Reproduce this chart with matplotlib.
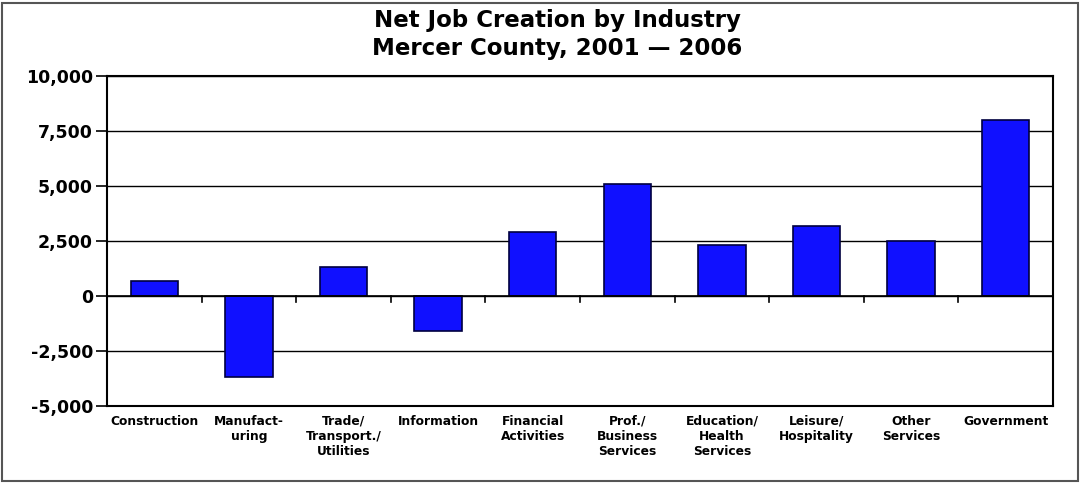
import matplotlib
matplotlib.use("Agg")
import matplotlib.pyplot as plt
from matplotlib.patches import Rectangle
import numpy as np

categories = ["Construction", "Manufact-\nuring", "Trade/\nTransport./\nUtilities",
              "Information", "Financial\nActivities", "Prof./\nBusiness\nServices",
              "Education/\nHealth\nServices", "Leisure/\nHospitality", "Other\nServices",
              "Government"]
values = [700, -3700, 1300, -1600, 2900, 5100, 2300, 3200, 2500, 8000]
yticks = [-5000, -2500, 0, 2500, 5000, 7500, 10000]
ytick_labels = ["-5,000", "-2,500", "0", "2,500", "5,000", "7,500", "10,000"]

W, H = 1081, 483
fig = plt.figure(figsize=(W/100, H/100), dpi=100)
fig.patch.set_facecolor("white")
fig.patches.append(Rectangle((2/W, 2/H), 1-5/W, 1-5/H, transform=fig.transFigure,
                             fill=False, edgecolor="#555555", linewidth=1.5))

left, right, top, bottom = 107, 1053, 76, 406
ax = fig.add_axes([left/W, 1-bottom/H, (right-left)/W, (bottom-top)/H])
x = np.arange(len(categories))
ax.bar(x, values, width=0.5, color="#1010FF", edgecolor="#000040", linewidth=1.2, zorder=3)
ax.set_xlim(-0.5, len(categories)-0.5)
ax.set_ylim(-5000, 10000)
ax.set_yticks(yticks)
ax.set_yticklabels(ytick_labels, fontsize=12.5, fontweight="bold")
for yv in yticks:
    ax.axhline(yv, color="black", linewidth=1.0, zorder=1)
ax.axhline(0, color="black", linewidth=1.2, zorder=4)
for s in ax.spines.values():
    s.set_linewidth(1.5)
    s.set_color("black")
ax.tick_params(axis="y", direction="out", length=8, width=1.2, pad=2)
ax.set_xticks([])
# category separator ticks at zero line
for b in np.arange(0.5, len(categories)-0.5, 1.0):
    ax.plot([b, b], [0, -280], color="black", linewidth=1.2, zorder=4, clip_on=False)
for xi, lab in zip(x, categories):
    ax.text(xi, -5400, lab, ha="center", va="top", fontsize=8.8, fontweight="bold",
            linespacing=1.2)

fig.text(557/W, 1-20/H, "Net Job Creation by Industry", ha="center", va="center",
         fontsize=16.5, fontweight="bold")
fig.text(557/W, 1-48/H, "Mercer County, 2001 \u2014 2006", ha="center", va="center",
         fontsize=16.5, fontweight="bold")

fig.savefig("out.png", dpi=100, facecolor="white")
